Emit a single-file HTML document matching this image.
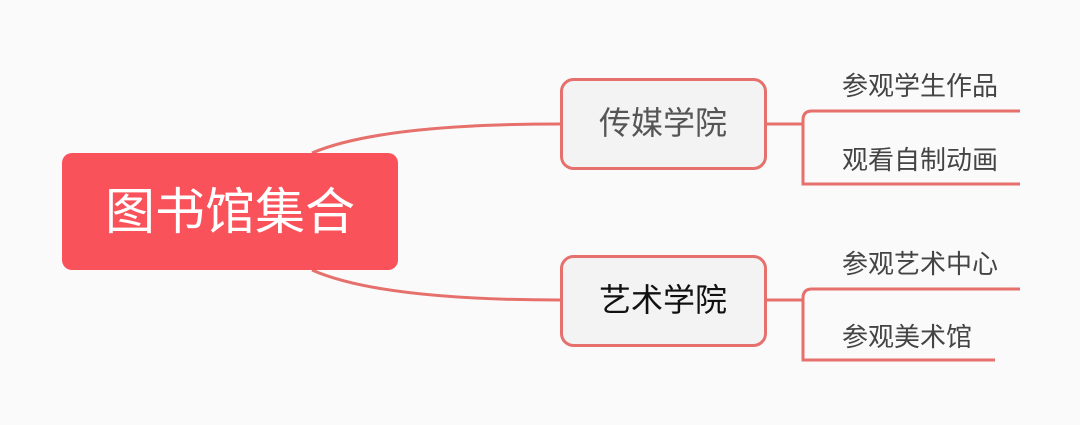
<!DOCTYPE html>
<html><head><meta charset="utf-8"><style>
body{margin:0;width:1080px;height:425px;background:#fafafa;overflow:hidden;font-family:"Liberation Sans","Noto Sans CJK SC",sans-serif}
.t{position:absolute;white-space:nowrap}
</style></head><body>
<svg width="1080" height="425" style="position:absolute;left:0;top:0">
<g fill="none" stroke="#e5706c" stroke-width="3">
<path d="M312 153 Q380 124 560 124"/>
<path d="M312 270 Q380 300 560 300"/>
<path d="M766 124 H803"/>
<path d="M1020 111 H812 Q803 111 803 120 V184 H1020"/>
<path d="M766 300 H803"/>
<path d="M1020 289 H812 Q803 289 803 298 V360 H995"/>
</g>
<rect x="62" y="153" width="336" height="117" rx="10" fill="#fa525a"/>
<rect x="561.5" y="79.5" width="204" height="89" rx="12" fill="#f3f3f3" stroke="#e5706c" stroke-width="3"/>
<rect x="561.5" y="256.5" width="204" height="89" rx="12" fill="#f3f3f3" stroke="#e5706c" stroke-width="3"/>
</svg>
<div class="t" style="left:62px;width:336px;top:182px;text-align:center;color:#fff;font-size:50px;line-height:60px">图书馆集合</div>
<div class="t" style="left:561px;width:204px;top:104px;text-align:center;color:#555;font-size:32px;line-height:38px">传媒学院</div>
<div class="t" style="left:561px;width:204px;top:281px;text-align:center;color:#111;font-size:32px;line-height:38px">艺术学院</div>
<div class="t" style="left:842px;top:71px;color:#444;font-size:26px;line-height:30px">参观学生作品</div>
<div class="t" style="left:842px;top:145px;color:#444;font-size:26px;line-height:30px">观看自制动画</div>
<div class="t" style="left:842px;top:249px;color:#444;font-size:26px;line-height:30px">参观艺术中心</div>
<div class="t" style="left:842px;top:322px;color:#444;font-size:26px;line-height:30px">参观美术馆</div>
</body></html>
